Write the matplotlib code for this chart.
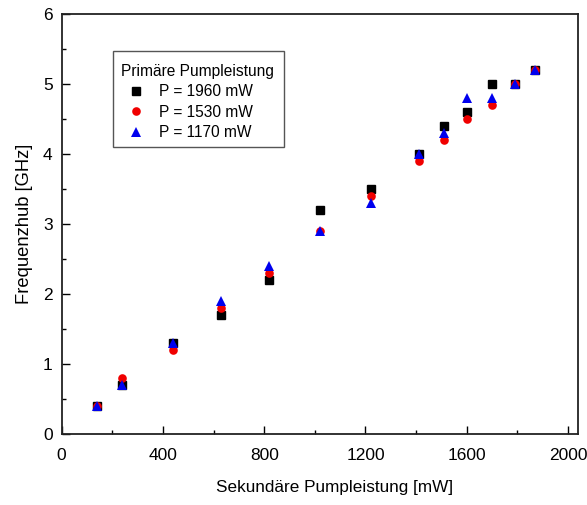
import matplotlib
matplotlib.use("Agg")
import matplotlib.pyplot as plt
from matplotlib.patches import Rectangle
from matplotlib.ticker import MultipleLocator

plt.rcParams['font.family'] = ['Liberation Sans', 'DejaVu Sans']

# Secondary pump power [mW]
sek_power = [140, 240, 440, 630, 820, 1020, 1220, 1410, 1510, 1600, 1700, 1790, 1870]

# Frequency deviation [GHz] for each primary pump power
hub_1960 = [0.4, 0.7, 1.3, 1.7, 2.2, 3.2, 3.5, 4.0, 4.4, 4.6, 5.0, 5.0, 5.2]
hub_1530 = [0.4, 0.8, 1.2, 1.8, 2.3, 2.9, 3.4, 3.9, 4.2, 4.5, 4.7, 5.0, 5.2]
hub_1170 = [0.4, 0.7, 1.3, 1.9, 2.4, 2.9, 3.3, 4.0, 4.3, 4.8, 4.8, 5.0, 5.2]

series_labels = ["P = 1960 mW", "P = 1530 mW", "P = 1170 mW"]
x_ticks = [0, 400, 800, 1200, 1600, 2000]
y_ticks = [0, 1, 2, 3, 4, 5, 6]

fig = plt.figure(figsize=(5.87, 5.05), dpi=100)
ax = fig.add_axes([0.105, 0.14, 0.88, 0.832])

ax.plot(sek_power, hub_1960, linestyle='none', marker='s', ms=5.6,
        color='black', label=series_labels[0])
ax.plot(sek_power, hub_1530, linestyle='none', marker='o', ms=6.2,
        color='#f00000', markeredgewidth=0, label=series_labels[1])
ax.plot(sek_power, hub_1170, linestyle='none', marker='^', ms=7.2,
        color='#0000ee', markeredgewidth=0, label=series_labels[2])

ax.set_xlim(0, 2040)
ax.set_ylim(0, 6)
ax.set_xticks(x_ticks)
ax.set_yticks(y_ticks)
ax.xaxis.set_minor_locator(MultipleLocator(200))
ax.yaxis.set_minor_locator(MultipleLocator(0.5))
ax.tick_params(which='both', direction='in', top=False, right=False,
               labelsize=12.5, width=1.0)
ax.tick_params(which='major', length=5.8)
ax.tick_params(which='minor', length=3.1)
ax.tick_params(axis='x', which='major', pad=9.8)
ax.tick_params(axis='y', which='major', pad=6.5)
for sp in ax.spines.values():
    sp.set_linewidth(1.3)
    sp.set_color('#222222')

ax.set_xlabel("Sekundäre Pumpleistung [mW]", fontsize=12.3, labelpad=12, x=0.529)
ax.set_ylabel("Frequenzhub [GHz]", fontsize=13.2, labelpad=7)

# legend box drawn as its own rectangle, entries placed inside it
ax.add_patch(Rectangle((0.0999, 0.6836), 0.3307, 0.2291, transform=ax.transAxes,
                       facecolor='white', edgecolor='#555555', linewidth=1.0,
                       zorder=4))
leg = ax.legend(title="Primäre Pumpleistung", loc='upper left',
                bbox_to_anchor=(0.1143, 0.8823), borderaxespad=0,
                fontsize=11.2, title_fontsize=11.2, frameon=False,
                handlelength=2.0, handletextpad=0.455, borderpad=0,
                labelspacing=0.36, markerfirst=True)
leg._legend_box.align = "left"
leg.set_zorder(5)

fig.savefig("out.png", dpi=100)
